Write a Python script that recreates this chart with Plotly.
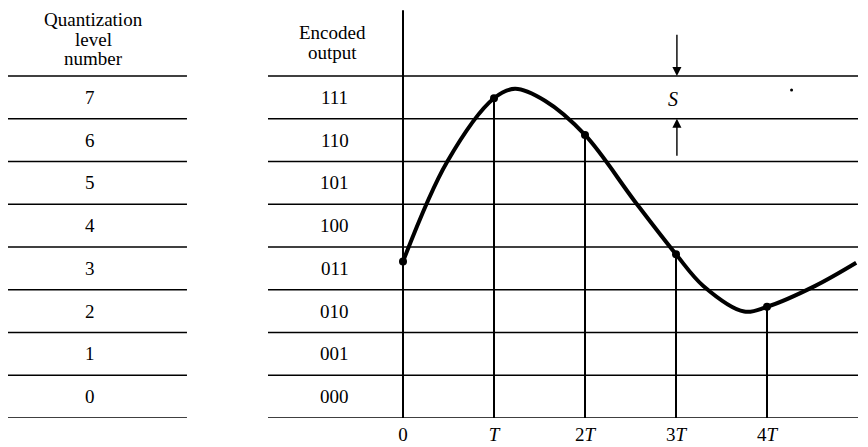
import plotly.graph_objects as go

# ---- data ----
level_numbers = ["0", "1", "2", "3", "4", "5", "6", "7"]
encoded_outputs = ["000", "001", "010", "011", "100", "101", "110", "111"]
header_left = ["Quantization", "level", "number"]
header_mid = ["Encoded", "output"]
sample_t = [0, 1, 2, 3, 4]
sample_v = [3.66, 7.48, 6.62, 3.83, 2.60]
tick_text = ["0", "<i>T</i>", "2<i>T</i>", "3<i>T</i>", "4<i>T</i>"]
curve_t = [0, 0.484, 1.0, 1.231, 1.56, 2.0, 2.55, 3.0, 3.30, 3.75, 4.0, 4.53, 4.98]
curve_v = [3.66, 5.99, 7.48, 7.70, 7.42, 6.62, 5.06, 3.83, 3.09, 2.49, 2.60, 3.09, 3.63]
step_label = "<i>S</i>"

FONT = "Liberation Serif, Times New Roman, serif"
FS = 19
n_levels = len(level_numbers)

fig = go.Figure()

# curve
fig.add_trace(go.Scatter(x=curve_t, y=curve_v, mode="lines",
                         line=dict(color="black", width=4, shape="spline", smoothing=1.0),
                         hoverinfo="skip", showlegend=False))
# sample dots
fig.add_trace(go.Scatter(x=sample_t, y=sample_v, mode="markers",
                         marker=dict(color="black", size=8, symbol="circle"),
                         hoverinfo="skip", showlegend=False))
# stray dot
fig.add_trace(go.Scatter(x=[4.27], y=[7.67], mode="markers",
                         marker=dict(color="black", size=3),
                         hoverinfo="skip", showlegend=False))

shapes = []
# horizontal boundaries
for k in range(n_levels + 1):
    shapes.append(dict(type="line", xref="x", yref="y", x0=-4.374, x1=-2.374, y0=k, y1=k,
                       line=dict(color="black", width=1.6)))
    shapes.append(dict(type="line", xref="x", yref="y", x0=-1.4835, x1=5.0, y0=k, y1=k,
                       line=dict(color="black", width=1.6)))
# vertical axis
shapes.append(dict(type="line", xref="x", yref="y", x0=0, x1=0, y0=0, y1=9.54,
                   line=dict(color="black", width=2)))
# sample verticals
for t, v in zip(sample_t[1:], sample_v[1:]):
    shapes.append(dict(type="line", xref="x", yref="y", x0=t, x1=t, y0=0, y1=v,
                       line=dict(color="black", width=2)))

annotations = []
for k in range(n_levels):
    annotations.append(dict(x=-3.44, y=k + 0.5, xref="x", yref="y", text=level_numbers[k],
                            showarrow=False, font=dict(family=FONT, size=FS, color="black")))
    annotations.append(dict(x=-0.75, y=k + 0.5, xref="x", yref="y", text=encoded_outputs[k],
                            showarrow=False, font=dict(family=FONT, size=FS, color="black")))
for txt, yy in zip(header_left, [9.33, 8.85, 8.40]):
    annotations.append(dict(x=-3.40, y=yy, xref="x", yref="y", text=txt, showarrow=False,
                            font=dict(family=FONT, size=FS, color="black")))
for txt, yy in zip(header_mid, [9.01, 8.56]):
    annotations.append(dict(x=-0.77, y=yy, xref="x", yref="y", text=txt, showarrow=False,
                            font=dict(family=FONT, size=FS, color="black")))
# arrows
annotations.append(dict(x=3.01, y=8, ax=3.01, ay=9.0, xref="x", yref="y", axref="x", ayref="y",
                        text="", showarrow=True, arrowhead=2, arrowsize=1.3, arrowwidth=1.4,
                        arrowcolor="black", standoff=0))
annotations.append(dict(x=3.01, y=7, ax=3.01, ay=6.1, xref="x", yref="y", axref="x", ayref="y",
                        text="", showarrow=True, arrowhead=2, arrowsize=1.3, arrowwidth=1.4,
                        arrowcolor="black", standoff=0))
annotations.append(dict(x=2.97, y=7.47, xref="x", yref="y", text=step_label, showarrow=False,
                        font=dict(family=FONT, size=FS + 1, color="black")))

# page has an 8px body margin, so the figure is 860x439 placed at (8, 8)
fig.update_layout(
    width=860, height=439,
    margin=dict(l=0, r=0, t=0, b=29),
    paper_bgcolor="white", plot_bgcolor="white",
    shapes=shapes, annotations=annotations,
    xaxis=dict(range=[-395 / 91, 465 / 91], showgrid=False, zeroline=False, showline=False,
               tickvals=sample_t, ticktext=tick_text, ticks="",
               tickfont=dict(family=FONT, size=FS, color="black"), ticklabelstandoff=3),
    yaxis=dict(range=[0, 8 + 68 / 42.75], showgrid=False, zeroline=False, showline=False,
               showticklabels=False, ticks=""),
)

fig.write_html("out.html")
